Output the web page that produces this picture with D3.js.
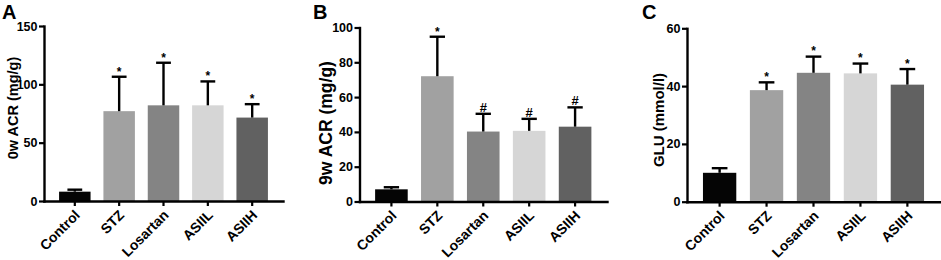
<!DOCTYPE html>
<html>
<head>
<meta charset="utf-8">
<script src="https://cdn.jsdelivr.net/npm/d3@7"></script>
<style>
  html, body { margin: 0; padding: 0; background: #fff; }
  svg { display: block; font-family: Arial, 'Liberation Sans', sans-serif; }
</style>
</head>
<body>
<svg id="chart" width="941" height="260"></svg>
<script>
// groups & fill colours (GraphPad-style grey ramp)
const categories = ['Control', 'STZ', 'Losartan', 'ASIIL', 'ASIIH'];
const barColors  = ['#050505', '#a1a1a1', '#848484', '#d6d6d6', '#616161'];

// A: 0w ACR (mg/g)
const acr0wMean = [8, 77, 82, 82, 71.5];
const acr0wSD   = [1.7, 29.5, 36.5, 20.5, 11.5];
const acr0wSig  = ['', '*', '*', '*', '*'];
const acr0wTicks = [0, 50, 100, 150];

// B: 9w ACR (mg/g)
const acr9wMean = [7, 72, 40.2, 40.6, 43];
const acr9wSD   = [1.2, 22.7, 10.2, 6.9, 11.1];
const acr9wSig  = ['', '*', '#', '#', '#'];
const acr9wTicks = [0, 20, 40, 60, 80, 100];

// C: GLU (mmol/l)
const gluMean = [10, 38.6, 44.6, 44.4, 40.5];
const gluSD   = [1.6, 2.7, 5.6, 3.4, 5.4];
const gluSig  = ['', '*', '*', '*', '*'];
const gluTicks = [0, 20, 40, 60];

const panels = [
  { letter: 'A', title: '0w ACR (mg/g)', mean: acr0wMean, sd: acr0wSD, sig: acr0wSig, ticks: acr0wTicks,
    x0: 44, x1: 283, yTop: 26, yBot: 201, letterX: 2, titleX: 13, titleY: 108, titleSize: 14.5 },
  { letter: 'B', title: '9w ACR (mg/g)', mean: acr9wMean, sd: acr9wSD, sig: acr9wSig, ticks: acr9wTicks,
    x0: 359.5, x1: 607, yTop: 27.5, yBot: 201.5, letterX: 313, titleX: 326, titleY: 123, titleSize: 17.5 },
  { letter: 'C', title: 'GLU (mmol/l)', mean: gluMean, sd: gluSD, sig: gluSig, ticks: gluTicks,
    x0: 687, x1: 940, yTop: 28.3, yBot: 201.7, letterX: 642, titleX: 659, titleY: 120, titleSize: 15 },
];

const svg = d3.select('#chart');

panels.forEach(p => {
  const g = svg.append('g');

  const x = d3.scaleBand().domain(categories).range([p.x0, p.x1])
    .paddingInner(0.29).paddingOuter(0.34);
  const y = d3.scaleLinear().domain([0, d3.max(p.ticks)]).range([p.yBot, p.yTop]);

  const rows = categories.map((c, i) => ({ c, i, m: p.mean[i], sd: p.sd[i], sig: p.sig[i] }));
  const cx = d => x(d.c) + x.bandwidth() / 2;

  // bars
  g.selectAll('.bar').data(rows).join('rect')
    .attr('class', 'bar')
    .attr('x', d => x(d.c))
    .attr('width', x.bandwidth())
    .attr('y', d => y(d.m))
    .attr('height', d => y(0) - y(d.m))
    .attr('fill', d => barColors[d.i]);

  // upper error bars
  const capW = x.bandwidth() * 0.47;
  const eb = g.selectAll('.err').data(rows).join('g').attr('class', 'err')
    .attr('stroke', '#000').attr('stroke-width', 2.4);
  eb.append('line')
    .attr('x1', cx).attr('x2', cx)
    .attr('y1', d => y(d.m)).attr('y2', d => y(d.m + d.sd));
  eb.append('line')
    .attr('x1', d => cx(d) - capW / 2).attr('x2', d => cx(d) + capW / 2)
    .attr('y1', d => y(d.m + d.sd)).attr('y2', d => y(d.m + d.sd));

  // significance marks
  g.selectAll('.sig').data(rows.filter(d => d.sig)).join('text')
    .attr('class', 'sig')
    .attr('x', cx)
    .attr('y', d => y(d.m + d.sd) + (d.sig === '#' ? -2 : 6))
    .attr('text-anchor', 'middle')
    .attr('font-size', d => d.sig === '#' ? 13 : 12)
    .attr('font-weight', 'bold')
    .attr('dy', d => d.sig === '#' ? 0 : '-0.6em')
    .text(d => d.sig);

  // axes
  const yAxis = g.append('g').attr('transform', `translate(${p.x0},0)`)
    .call(d3.axisLeft(y).tickValues(p.ticks).tickSize(5).tickSizeOuter(0).tickPadding(1.5));
  const xAxis = g.append('g').attr('transform', `translate(0,${p.yBot})`)
    .call(d3.axisBottom(x).tickSize(5).tickSizeOuter(0));

  [yAxis, xAxis].forEach(a => {
    a.select('.domain').attr('stroke-width', 2.4).attr('stroke-linecap', 'square');
    a.selectAll('.tick line').attr('stroke-width', 2.2);
    a.selectAll('text').attr('font-family', 'Arial, "Liberation Sans", sans-serif')
      .attr('font-weight', 'bold').attr('fill', '#000');
  });
  yAxis.selectAll('text').attr('font-size', 12.5);
  xAxis.selectAll('text')
    .attr('font-size', 14)
    .attr('text-anchor', 'end')
    .attr('x', 0).attr('y', 0).attr('dy', 0)
    .attr('transform', 'translate(6,15) rotate(-45)');

  // y title
  g.append('text')
    .attr('transform', `translate(${p.titleX},${p.titleY}) rotate(-90)`)
    .attr('text-anchor', 'middle')
    .attr('dy', '0.35em')
    .attr('font-size', p.titleSize)
    .attr('font-weight', 'bold')
    .text(p.title);

  // panel letter
  g.append('text')
    .attr('x', p.letterX).attr('y', 19)
    .attr('font-size', 20)
    .attr('font-weight', 'bold')
    .text(p.letter);
});
</script>
</body>
</html>
